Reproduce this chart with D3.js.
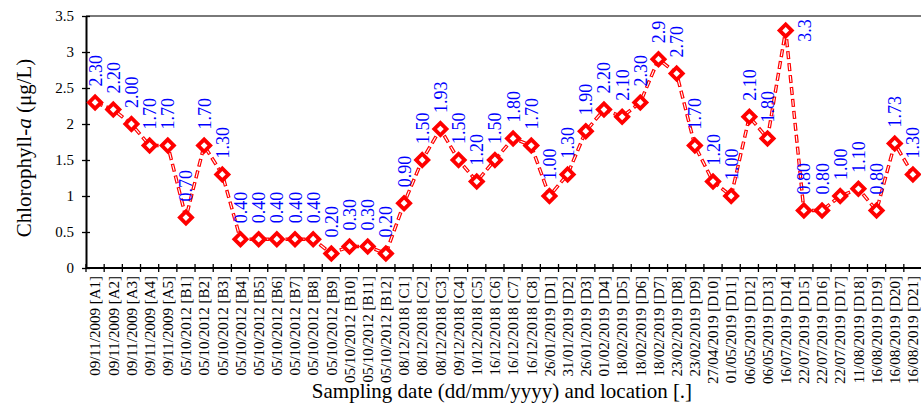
<!DOCTYPE html>
<html>
<head>
<meta charset="utf-8">
<script src="https://cdn.jsdelivr.net/npm/d3@7"></script>
<style>
  body { margin: 0; background: #fff; }
  svg { display: block; font-family: "Liberation Serif", "Times New Roman", serif; }
</style>
</head>
<body>
<main></main>
<script>
const dates = [
  "09/11/2009", "09/11/2009", "09/11/2009", "09/11/2009", "09/11/2009",
  "05/10/2012", "05/10/2012", "05/10/2012", "05/10/2012", "05/10/2012", "05/10/2012",
  "05/10/2012", "05/10/2012", "05/10/2012", "05/10/2012", "05/10/2012", "05/10/2012",
  "08/12/2018", "08/12/2018", "08/12/2018", "09/12/2018", "10/12/2018", "16/12/2018",
  "16/12/2018", "16/12/2018",
  "26/01/2019", "31/01/2019", "26/01/2019", "01/02/2019", "18/02/2019", "18/02/2019",
  "18/02/2019", "23/02/2019", "23/02/2019", "27/04/2019", "01/05/2019", "06/05/2019",
  "06/05/2019", "16/07/2019", "22/07/2019", "22/07/2019", "22/07/2019", "11/08/2019",
  "16/08/2019", "16/08/2019", "16/08/2019"
];
const locations = [
  "A1", "A2", "A3", "A4", "A5",
  "B1", "B2", "B3", "B4", "B5", "B6", "B7", "B8", "B9", "B10", "B11", "B12",
  "C1", "C2", "C3", "C4", "C5", "C6", "C7", "C8",
  "D1", "D2", "D3", "D4", "D5", "D6", "D7", "D8", "D9", "D10", "D11", "D12",
  "D13", "D14", "D15", "D16", "D17", "D18", "D19", "D20", "D21"
];
const chla = [
  2.30, 2.20, 2.00, 1.70, 1.70,
  0.70, 1.70, 1.30, 0.40, 0.40, 0.40, 0.40, 0.40, 0.20, 0.30, 0.30, 0.20,
  0.90, 1.50, 1.93, 1.50, 1.20, 1.50, 1.80, 1.70,
  1.00, 1.30, 1.90, 2.20, 2.10, 2.30, 2.9, 2.70, 1.70, 1.20, 1.00, 2.10,
  1.80, 3.3, 0.80, 0.80, 1.00, 1.10, 0.80, 1.73, 1.30
];
const valueLabels = [
  "2.30", "2.20", "2.00", "1.70", "1.70",
  "0.70", "1.70", "1.30", "0.40", "0.40", "0.40", "0.40", "0.40", "0.20", "0.30", "0.30", "0.20",
  "0.90", "1.50", "1.93", "1.50", "1.20", "1.50", "1.80", "1.70",
  "1.00", "1.30", "1.90", "2.20", "2.10", "2.30", "2.9", "2.70", "1.70", "1.20", "1.00", "2.10",
  "1.80", "3.3", "0.80", "0.80", "1.00", "1.10", "0.80", "1.73", "1.30"
];
const yTicks = [0, 0.5, 1, 1.5, 2, 2.5, 3, 3.5];

const w = 921;
const h = 411;
const plotLeft = 86, plotRight = 922, plotTop = 16, plotBottom = 268;

const categories = dates.map((d, i) => d + " [" + locations[i] + "]");
const data = categories.map((c, i) => ({ cat: c, value: chla[i], label: valueLabels[i] }));

const svg = d3.select("main")
  .append("svg")
  .attr("width", w)
  .attr("height", h);

const x = d3.scaleBand()
  .domain(categories)
  .range([plotLeft, plotRight]);

const y = d3.scaleLinear()
  .domain([0, 3.5])
  .range([plotBottom, plotTop]);

const cx = d => x(d.cat) + x.bandwidth() / 2;

// frame top line
svg.append("line")
  .attr("x1", plotLeft).attr("x2", w)
  .attr("y1", y(3.5)).attr("y2", y(3.5))
  .attr("stroke", "#4d4d4d")
  .attr("stroke-width", 1.5);

// y axis
const yAxis = svg.append("g")
  .attr("transform", `translate(${plotLeft},0)`)
  .call(d3.axisLeft(y).tickValues(yTicks).tickSizeInner(4).tickSizeOuter(0).tickFormat(d3.format("")));
yAxis.select(".domain").attr("stroke", "#000").attr("stroke-width", 2);
yAxis.selectAll(".tick line")
  .attr("x1", -4).attr("x2", 4)
  .attr("stroke", "#000").attr("stroke-width", 1.3);
yAxis.selectAll(".tick text")
  .attr("x", -12)
  .style("font-family", "Liberation Serif")
  .style("font-size", "15px")
  .attr("fill", "#000");

// x axis
const xAxis = svg.append("g")
  .attr("transform", `translate(0,${plotBottom})`)
  .call(d3.axisBottom(x).tickSize(0).tickPadding(8));
xAxis.select(".domain").remove();
xAxis.append("line")
  .attr("x1", plotLeft).attr("x2", w)
  .attr("stroke", "#000").attr("stroke-width", 2);
xAxis.selectAll(".edge")
  .data(d3.range(categories.length + 1))
  .enter()
  .append("line")
  .attr("class", "edge")
  .attr("x1", i => plotLeft + i * x.step())
  .attr("x2", i => plotLeft + i * x.step())
  .attr("y1", -4).attr("y2", 4)
  .attr("stroke", "#000").attr("stroke-width", 1.3);
xAxis.selectAll(".tick text")
  .attr("transform", "rotate(-90)")
  .attr("x", -8)
  .attr("y", 0)
  .attr("dy", "0.35em")
  .style("text-anchor", "end")
  .style("font-family", "Liberation Serif")
  .style("font-size", "15px")
  .attr("fill", "#000");

// axis titles
svg.append("text")
  .attr("transform", `translate(31,${(plotTop + plotBottom) / 2 + 6})rotate(-90)`)
  .style("text-anchor", "middle")
  .style("font-size", "21px")
  .html('Chlorophyll-<tspan font-style="italic">a</tspan> (\u03bcg/L)');

svg.append("text")
  .attr("x", 502)
  .attr("y", 398)
  .style("text-anchor", "middle")
  .style("font-size", "21px")
  .text("Sampling date (dd/mm/yyyy) and location [.]");

// dashed line
const line = d3.line()
  .x(d => cx(d))
  .y(d => y(d.value));

svg.append("path")
  .datum(data)
  .attr("d", line)
  .attr("fill", "none")
  .attr("stroke", "red")
  .attr("stroke-width", 3.5)
  .attr("stroke-dasharray", "8,4");

svg.append("path")
  .datum(data)
  .attr("d", line)
  .attr("fill", "none")
  .attr("stroke", "#fff")
  .attr("stroke-width", 1.1)
  .attr("stroke-dasharray", "6,6")
  .attr("stroke-dashoffset", -1);

// markers
svg.selectAll(".marker")
  .data(data)
  .enter()
  .append("rect")
  .attr("class", "marker")
  .attr("x", -4.3).attr("y", -4.3)
  .attr("width", 8.6).attr("height", 8.6)
  .attr("transform", d => `translate(${cx(d)},${y(d.value)})rotate(45)`)
  .attr("fill", "#fff")
  .attr("stroke", "red")
  .attr("stroke-width", 3.8);

// value labels
svg.selectAll(".vlabel")
  .data(data)
  .enter()
  .append("text")
  .attr("class", "vlabel")
  .attr("fill", "#0000ff")
  .style("font-size", "18px")
  .style("text-anchor", "start")
  .text(d => d.label)
  .attr("transform", function(d) {
    const len = this.getComputedTextLength();
    const px = cx(d), py = y(d.value);
    if (py - 17 - len < plotTop) {
      return `translate(${px + 25},${py + len / 2})rotate(-90)`;
    }
    return `translate(${px + 6.5},${py - 16})rotate(-90)`;
  });
</script>
</body>
</html>
